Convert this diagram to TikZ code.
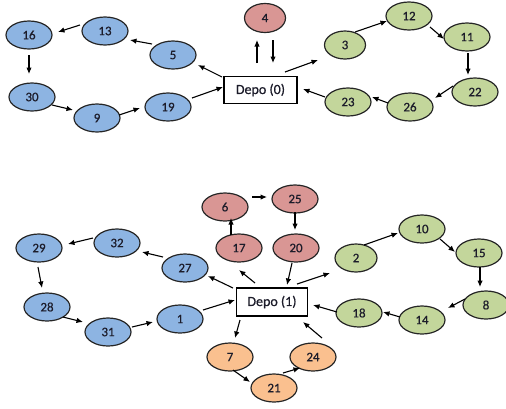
\documentclass[tikz,border=0pt]{standalone}
\usepackage{fontspec}
\setmainfont{Carlito}[UprightFeatures={FakeBold=0.6}]
\usetikzlibrary{arrows.meta,shapes.geometric}

\definecolor{routeblue}{HTML}{8DB4E2}
\definecolor{routered}{HTML}{D99694}
\definecolor{routegreen}{HTML}{C3D69B}
\definecolor{routeorange}{HTML}{FAC08F}
\definecolor{inktext}{HTML}{1C1C2A}

\begin{document}
\begin{tikzpicture}[x=1pt,y=-1pt,
  stop/.style={ellipse, draw=black!85, line width=1.2pt, minimum width=46pt,
    minimum height=28pt, inner sep=0pt, text=inktext,
    font=\fontsize{13}{15}\selectfont},
  bstop/.style={stop, fill=routeblue},
  rstop/.style={stop, fill=routered},
  gstop/.style={stop, fill=routegreen},
  ostop/.style={stop, fill=routeorange},
  depot/.style={rectangle, draw=black, fill=white, line width=1.2pt,
    minimum width=73pt, minimum height=27pt, inner sep=0pt, text=inktext,
    font=\fontsize{14}{16}\selectfont},
  arr/.style={draw=black, line width=1.1pt, -{Latex[length=6.5pt,width=5.5pt]}}
]
\useasboundingbox (0,0) rectangle (506,408);

% ---------------- depot 0 and its routes ----------------
\node[depot] (D0) at (260.5,90) {Depo (0)};

\node[bstop] (n16) at (29,35) {16};
\node[bstop] (n13) at (105,31) {13};
\node[bstop] (n5)  at (173,55) {5};
\node[bstop] (n30) at (32,97) {30};
\node[bstop] (n9)  at (97,118) {9};
\node[bstop] (n19) at (168,107) {19};

\node[rstop, minimum width=41pt, minimum height=29pt] (n4) at (265,18) {4};

\node[gstop, minimum width=41pt] (n3) at (345,45) {3};
\node[gstop] (n12) at (409,16) {12};
\node[gstop] (n11) at (467,37) {11};
\node[gstop] (n22) at (475,92) {22};
\node[gstop] (n26) at (410,107) {26};
\node[gstop] (n23) at (348,102) {23};

\draw[arr] ([shift={(-38.5,-13)}]D0.center) -- ([shift={(25,10)}]n5.center);
\draw[arr] ([shift={(-21,-11)}]n5.center)   -- ([shift={(25,9)}]n13.center);
\draw[arr] ([shift={(-25,-6)}]n13.center)   -- ([shift={(29,-3)}]n16.center);
\draw[arr] ([shift={(0,20)}]n16.center)     -- ([shift={(-3,-23)}]n30.center);
\draw[arr] ([shift={(20,8)}]n30.center)     -- ([shift={(-24,-8)}]n9.center);
\draw[arr] ([shift={(22,-3)}]n9.center)     -- ([shift={(-28,1)}]n19.center);
\draw[arr] ([shift={(24,-9)}]n19.center)    -- ([shift={(-37.5,-3)}]D0.center);

\draw[arr] ([shift={(-3.5,-27)}]D0.center)  -- ([shift={(-8,22)}]n4.center);
\draw[arr] ([shift={(8,22)}]n4.center)      -- ([shift={(12.5,-27)}]D0.center);

\draw[arr] ([shift={(24.5,-18)}]D0.center)  -- ([shift={(-27,15)}]n3.center);
\draw[arr] ([shift={(10,-13)}]n3.center)    -- ([shift={(-22,5)}]n12.center);
\draw[arr] ([shift={(21,11)}]n12.center)    -- ([shift={(-23,2)}]n11.center);
\draw[arr] ([shift={(1,16)}]n11.center)     -- ([shift={(-7,-17)}]n22.center);
\draw[arr] ([shift={(-22,-6)}]n22.center)   -- ([shift={(25,-9)}]n26.center);
\draw[arr] ([shift={(-22,-4)}]n26.center)   -- ([shift={(24,-5)}]n23.center);
\draw[arr] ([shift={(-23,-5)}]n23.center)   -- ([shift={(42.5,-1)}]D0.center);

% ---------------- depot 1 and its routes ----------------
\node[depot, minimum width=71pt, minimum height=28pt] (D1) at (272,302) {Depo (1)};

\node[bstop] (n29) at (39,248) {29};
\node[bstop] (n32) at (117,243) {32};
\node[bstop] (n27) at (185,268) {27};
\node[bstop] (n28) at (47,307) {28};
\node[bstop] (n31) at (108,332) {31};
\node[bstop] (n1)  at (180,319) {1};

\node[rstop] (n6)  at (225,207) {6};
\node[rstop] (n25) at (295,199) {25};
\node[rstop] (n17) at (239,248) {17};
\node[rstop] (n20) at (296,248) {20};

\node[gstop, minimum width=42pt] (n2) at (356,258) {2};
\node[gstop] (n10) at (422,229) {10};
\node[gstop] (n15) at (479,253) {15};
\node[gstop] (n8)  at (486,305) {8};
\node[gstop] (n14) at (422,320) {14};
\node[gstop] (n18) at (359,313) {18};

\node[ostop] (n7)  at (230,357) {7};
\node[ostop] (n21) at (274,388) {21};
\node[ostop] (n24) at (313,357) {24};

\draw[arr] ([shift={(-39,-14)}]D1.center)   -- ([shift={(23,8)}]n27.center);
\draw[arr] ([shift={(-22,-11)}]n27.center)  -- ([shift={(25,9)}]n32.center);
\draw[arr] ([shift={(-24,-5)}]n32.center)   -- ([shift={(29,-4)}]n29.center);
\draw[arr] ([shift={(-1,19)}]n29.center)    -- ([shift={(-5,-19)}]n28.center);
\draw[arr] ([shift={(16,10)}]n28.center)    -- ([shift={(-25,-10)}]n31.center);
\draw[arr] ([shift={(24,-5)}]n31.center)    -- ([shift={(-27,3)}]n1.center);
\draw[arr] ([shift={(23,-9)}]n1.center)     -- ([shift={(-37,-2)}]D1.center);

\draw[arr] ([shift={(-17,-19)}]D1.center)   -- ([shift={(0,22)}]n17.center);
\draw[arr] ([shift={(-8,-13)}]n17.center)   -- ([shift={(6,11)}]n6.center);
\draw[arr] ([shift={(27,-10)}]n6.center)    -- ([shift={(-28,-2)}]n25.center);
\draw[arr] ([shift={(0,13)}]n25.center)     -- ([shift={(-1,-18)}]n20.center);
\draw[arr] ([shift={(-4,15)}]n20.center)    -- ([shift={(15,-17)}]D1.center);

\draw[arr] ([shift={(25,-18)}]D1.center)    -- ([shift={(-26,15)}]n2.center);
\draw[arr] ([shift={(8,-13)}]n2.center)     -- ([shift={(-24,4)}]n10.center);
\draw[arr] ([shift={(18,10)}]n10.center)    -- ([shift={(-24,-1)}]n15.center);
\draw[arr] ([shift={(1,14)}]n15.center)     -- ([shift={(-6,-18)}]n8.center);
\draw[arr] ([shift={(-21,-6)}]n8.center)    -- ([shift={(26,-12)}]n14.center);
\draw[arr] ([shift={(-22,-3)}]n14.center)   -- ([shift={(24,-1)}]n18.center);
\draw[arr] ([shift={(-22,-1)}]n18.center)   -- ([shift={(41,3)}]D1.center);

\draw[arr] ([shift={(-32,18)}]D1.center)    -- ([shift={(5,-19)}]n7.center);
\draw[arr] ([shift={(3,13)}]n7.center)      -- ([shift={(-24,-6)}]n21.center);
\draw[arr] ([shift={(9,-15)}]n21.center)    -- ([shift={(-13,11)}]n24.center);
\draw[arr] ([shift={(9,-19)}]n24.center)    -- ([shift={(31,20)}]D1.center);
\end{tikzpicture}
\end{document}
